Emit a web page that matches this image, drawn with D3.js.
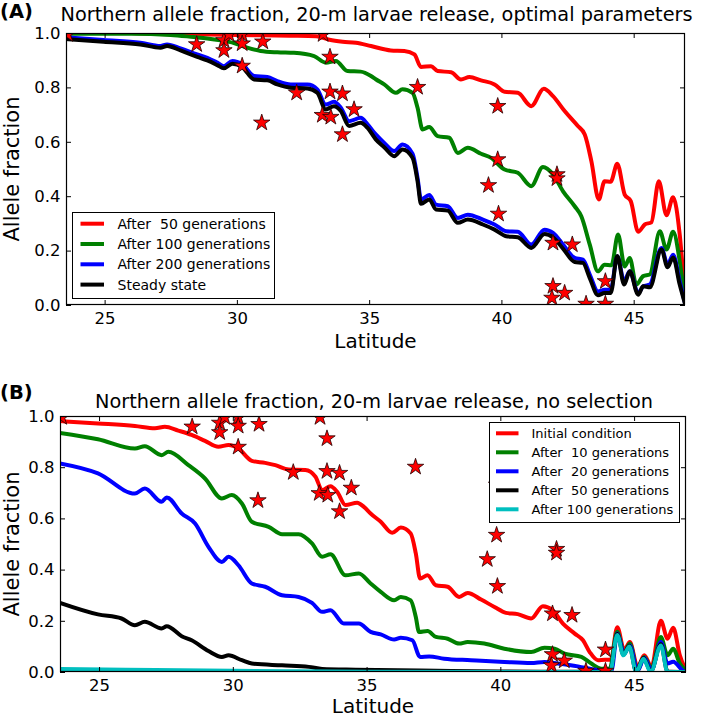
<!DOCTYPE html>
<html>
<head>
<meta charset="utf-8">
<script src="https://cdn.jsdelivr.net/npm/d3@7"></script>
<style>
body { margin: 0; background: #fff; }
text { font-family: "DejaVu Sans", sans-serif; fill: #000; }
</style>
</head>
<body>
<script>
var width = 709, height = 717;

// axis settings
var latDomain = [23.54, 46.94];
var xTicks = [25, 30, 35, 40, 45];
var yTicks = [0, 0.2, 0.4, 0.6, 0.8, 1.0];

// observed sites (latitude, northern allele fraction), same in both panels
var sites = [[23.6,0.995],[28.48,0.958],[29.51,0.973],[29.51,0.936],[29.7,0.995],[30.2,0.995],[30.2,0.961],
  [30.98,0.968],[30.2,0.879],[30.94,0.67],[32.26,0.78],[33.26,0.995],[33.52,0.912],[33.52,0.784],[33.99,0.777],
  [34.43,0.719],[33.23,0.698],[33.55,0.691],[33.99,0.627],[36.83,0.801],[39.86,0.731],[39.86,0.535],[39.51,0.44],
  [39.89,0.335],[42.1,0.48],[42.1,0.465],[41.95,0.228],[42.68,0.222],[41.95,0.069],[42.39,0.044],[41.91,0.026],
  [43.2,0.004],[43.93,0.087],[43.93,0.004]];

// panel A: optimal parameters
var aGen50 = [[23.54,1.0],[26.0,1.0],[27.0,0.996],[28.5,0.995],[30.0,0.993],[32.0,0.99],[33.0,0.988],[33.5,0.975],
  [34.0,0.968],[34.5,0.964],[35.07,0.952],[35.82,0.936],[36.33,0.934],[36.71,0.921],[36.96,0.875],[37.34,0.878],
  [37.59,0.86],[38.1,0.856],[38.47,0.829],[38.79,0.838],[39.23,0.826],[39.74,0.811],[40.12,0.784],[40.62,0.78],
  [41.13,0.731],[41.6,0.795],[41.95,0.768],[42.39,0.713],[42.89,0.658],[43.15,0.627],[43.4,0.529],[43.68,0.388],
  [43.9,0.455],[44.13,0.453],[44.38,0.519],[44.66,0.406],[44.89,0.382],[45.17,0.269],[45.42,0.296],[45.67,0.304],
  [45.95,0.455],[46.24,0.33],[46.49,0.396],[46.74,0.259],[46.94,0.02]];
var aGen100 = [[23.54,0.997],[26.0,0.997],[27.5,0.993],[28.37,0.985],[28.88,0.98],[29.38,0.973],[29.89,0.963],
  [30.39,0.946],[30.9,0.934],[31.53,0.929],[32.16,0.927],[32.92,0.915],[33.36,0.891],[33.74,0.897],[34.18,0.86],
  [34.68,0.858],[35.07,0.842],[35.25,0.83],[35.57,0.811],[36.01,0.78],[36.26,0.793],[36.64,0.78],[36.83,0.725],
  [37.02,0.645],[37.27,0.654],[37.59,0.621],[38.03,0.615],[38.35,0.559],[38.73,0.578],[39.23,0.556],[39.61,0.541],
  [40.12,0.498],[40.62,0.486],[41.13,0.437],[41.57,0.507],[41.95,0.48],[42.33,0.418],[42.77,0.363],[43.02,0.326],
  [43.34,0.222],[43.65,0.124],[43.9,0.148],[44.16,0.146],[44.41,0.259],[44.66,0.142],[44.85,0.173],[45.1,0.075],
  [45.36,0.106],[45.61,0.112],[45.99,0.271],[46.24,0.204],[46.49,0.269],[46.74,0.161],[46.94,0.013]];
var aGen200 = [[23.54,0.984],[24.96,0.974],[26.35,0.964],[27.11,0.952],[27.36,0.958],[27.87,0.943],[28.5,0.921],
  [28.88,0.909],[29.26,0.891],[29.51,0.878],[29.83,0.897],[30.2,0.885],[30.65,0.842],[31.15,0.838],[31.53,0.823],
  [32.04,0.811],[32.67,0.811],[33.04,0.793],[33.36,0.737],[33.67,0.747],[33.93,0.725],[34.24,0.676],[34.68,0.688],
  [34.94,0.664],[35.25,0.627],[35.57,0.596],[35.95,0.566],[36.26,0.59],[36.64,0.556],[36.83,0.467],[36.96,0.388],
  [37.27,0.404],[37.53,0.369],[37.97,0.363],[38.35,0.32],[38.73,0.332],[39.3,0.314],[39.74,0.296],[40.18,0.271],
  [40.62,0.269],[41.13,0.222],[41.63,0.277],[41.95,0.265],[42.33,0.222],[42.77,0.173],[43.08,0.167],[43.34,0.112],
  [43.65,0.05],[43.9,0.056],[44.13,0.056],[44.38,0.178],[44.64,0.087],[44.85,0.124],[45.17,0.044],[45.36,0.069],
  [45.61,0.075],[46.05,0.21],[46.28,0.148],[46.49,0.185],[46.74,0.087],[46.94,0.007]];
var aSteady = [[23.54,0.978],[24.96,0.968],[26.35,0.958],[27.11,0.946],[27.36,0.952],[27.87,0.936],[28.5,0.912],
  [28.88,0.899],[29.26,0.882],[29.51,0.87],[29.83,0.887],[30.2,0.875],[30.65,0.829],[31.15,0.826],[31.53,0.811],
  [32.04,0.799],[32.67,0.796],[33.04,0.78],[33.36,0.719],[33.67,0.731],[33.93,0.713],[34.24,0.658],[34.68,0.67],
  [34.94,0.651],[35.25,0.609],[35.57,0.58],[35.95,0.547],[36.26,0.572],[36.64,0.541],[36.83,0.455],[36.96,0.372],
  [37.27,0.388],[37.53,0.351],[37.97,0.347],[38.35,0.302],[38.73,0.314],[39.3,0.296],[39.74,0.277],[40.18,0.253],
  [40.62,0.249],[41.13,0.21],[41.63,0.261],[41.95,0.249],[42.33,0.207],[42.77,0.158],[43.08,0.155],[43.34,0.099],
  [43.65,0.036],[43.9,0.044],[44.13,0.044],[44.38,0.18],[44.64,0.075],[44.85,0.124],[45.17,0.038],[45.36,0.069],
  [45.61,0.065],[46.05,0.204],[46.28,0.139],[46.49,0.175],[46.74,0.075],[46.94,0.004]];

// panel B: no selection
var bInitial = [[23.54,0.98],[24.96,0.971],[26.34,0.961],[27.09,0.952],[27.46,0.958],[27.96,0.943],[28.46,0.926],
  [28.96,0.903],[29.46,0.88],[29.84,0.887],[30.21,0.873],[30.71,0.825],[31.21,0.817],[31.59,0.808],[32.09,0.791],
  [32.71,0.789],[33.09,0.763],[33.34,0.71],[33.65,0.726],[33.9,0.704],[34.21,0.652],[34.65,0.661],[34.9,0.645],
  [35.15,0.619],[35.53,0.587],[35.96,0.544],[36.28,0.564],[36.65,0.541],[36.84,0.463],[37.0,0.365],[37.28,0.378],
  [37.59,0.339],[38.03,0.333],[38.46,0.293],[38.78,0.309],[39.28,0.283],[39.78,0.254],[40.21,0.231],[40.65,0.226],
  [41.15,0.209],[41.59,0.257],[41.96,0.241],[42.34,0.189],[42.78,0.15],[43.09,0.124],[43.34,0.078],[43.65,0.046],
  [43.9,0.048],[44.13,0.048],[44.37,0.175],[44.63,0.085],[44.84,0.117],[45.13,0.02],[45.38,0.065],[45.65,0.02],
  [46.0,0.2],[46.25,0.13],[46.46,0.173],[46.71,0.065],[46.94,0.005]];
var bGen10 = [[23.54,0.934],[24.96,0.909],[26.34,0.873],[26.71,0.882],[27.34,0.847],[27.59,0.86],[28.34,0.808],
  [28.96,0.756],[29.59,0.678],[29.96,0.691],[30.34,0.658],[30.71,0.587],[31.34,0.567],[31.84,0.538],[32.46,0.538],
  [32.96,0.502],[33.34,0.45],[33.65,0.46],[34.21,0.378],[34.71,0.385],[35.15,0.346],[35.53,0.313],[36.03,0.28],
  [36.28,0.293],[36.65,0.28],[36.84,0.215],[36.96,0.156],[37.28,0.16],[37.59,0.137],[38.03,0.13],[38.46,0.111],
  [38.78,0.117],[39.4,0.111],[40.15,0.091],[41.15,0.078],[41.65,0.095],[42.03,0.091],[42.4,0.072],[43.03,0.059],
  [43.4,0.033],[43.78,0.013],[44.09,0.013],[44.37,0.157],[44.63,0.072],[44.84,0.111],[45.13,0.007],[45.38,0.059],
  [45.65,0.013],[46.0,0.137],[46.25,0.065],[46.46,0.091],[46.71,0.033],[46.94,0.004]];
var bGen20 = [[23.54,0.815],[24.96,0.776],[26.34,0.697],[26.71,0.717],[27.34,0.665],[27.53,0.682],[28.09,0.619],
  [28.59,0.58],[29.09,0.489],[29.59,0.43],[29.84,0.45],[30.21,0.417],[30.71,0.346],[31.21,0.333],[31.84,0.3],
  [32.46,0.293],[32.96,0.27],[33.34,0.235],[33.65,0.241],[34.15,0.189],[34.71,0.189],[35.15,0.157],[35.53,0.147],
  [36.03,0.127],[36.28,0.134],[36.71,0.124],[37.0,0.059],[37.34,0.061],[37.9,0.052],[38.9,0.046],[40.15,0.039],
  [41.15,0.035],[41.65,0.039],[42.15,0.033],[42.9,0.022],[43.65,0.007],[44.15,0.004],[44.37,0.15],[44.63,0.072],
  [44.84,0.104],[45.13,0.004],[45.38,0.056],[45.65,0.007],[46.0,0.117],[46.25,0.033],[46.46,0.04],[46.84,0.004],
  [46.94,0.0]];
var bGen50 = [[23.54,0.27],[24.96,0.225],[25.84,0.209],[26.34,0.183],[26.71,0.196],[27.34,0.17],[27.53,0.179],
  [28.09,0.14],[28.46,0.124],[29.09,0.082],[29.59,0.059],[29.84,0.065],[30.34,0.046],[30.71,0.033],[31.84,0.026],
  [32.84,0.02],[33.34,0.012],[34.59,0.009],[37.6,0.005],[40.0,0.002],[44.1,0.001],[44.37,0.148],[44.6,0.068],
  [44.82,0.103],[45.08,0.002],[45.35,0.055],[45.62,0.002],[46.0,0.108],[46.25,0.002],[46.94,0.0]];
var bGen100 = [[23.54,0.012],[26.0,0.009],[29.0,0.006],[32.0,0.003],[35.0,0.001],[44.1,0.0],[44.37,0.145],
  [44.6,0.065],[44.82,0.1],[45.08,0.0],[45.35,0.052],[45.62,0.0],[46.0,0.104],[46.25,0.0],[46.94,0.0]];

var svg = d3.select("body").append("svg").attr("width", width).attr("height", height);

drawPanel({
  tag: "A", left: 66, right: 685, top: 33, bottom: 305,
  title: "Northern allele fraction, 20-m larvae release, optimal parameters",
  titleY: 20.7, tagY: 18.3, xLabelY: 347.5,
  series: [
    {data: aGen50, color: "#ff0000", label: "After  50 generations"},
    {data: aGen100, color: "#008000", label: "After 100 generations"},
    {data: aGen200, color: "#0000ff", label: "After 200 generations"},
    {data: aSteady, color: "#000000", label: "Steady state"}
  ],
  legend: {x: 72.5, y: 212.5, w: 202, h: 86, row0: 223.7, step: 20.3, s0: 80.5, s1: 104, tx: 117.5, font: 14}
});

drawPanel({
  tag: "B", left: 60, right: 686, top: 416, bottom: 672,
  title: "Northern allele fraction, 20-m larvae release, no selection",
  titleY: 408.3, tagY: 399.3, xLabelY: 713,
  series: [
    {data: bInitial, color: "#ff0000", label: "Initial condition"},
    {data: bGen10, color: "#008000", label: "After  10 generations"},
    {data: bGen20, color: "#0000ff", label: "After  20 generations"},
    {data: bGen50, color: "#000000", label: "After  50 generations"},
    {data: bGen100, color: "#00bfbf", label: "After 100 generations"}
  ],
  legend: {x: 489.5, y: 422.5, w: 190, h: 100, row0: 433.3, step: 19, s0: 496, s1: 518.5, tx: 531.5, font: 13}
});

function drawPanel(p){
  var x = d3.scaleLinear().domain(latDomain).range([p.left, p.right]);
  var y = d3.scaleLinear().domain([0, 1]).range([p.bottom, p.top]);
  var g = svg.append("g");

  // clip lines and stars to the axes box, like matplotlib does
  var clipId = "clip" + p.tag;
  g.append("clipPath").attr("id", clipId).append("rect")
    .attr("x", p.left).attr("y", p.top).attr("width", p.right - p.left).attr("height", p.bottom - p.top);
  var plot = g.append("g").attr("clip-path", "url(#" + clipId + ")");

  var line = d3.line().curve(d3.curveMonotoneX)
    .x(function(d){ return x(d[0]); }).y(function(d){ return y(d[1]); });
  p.series.forEach(function(s){
    plot.append("path").datum(s.data).attr("d", line)
      .attr("fill", "none").attr("stroke", s.color).attr("stroke-width", 4)
      .attr("stroke-linejoin", "round").attr("stroke-linecap", "round");
  });

  plot.selectAll("path.star").data(sites).enter().append("path").attr("class", "star")
    .attr("transform", function(d){ return "translate(" + x(d[0]) + "," + y(d[1]) + ")"; })
    .attr("d", d3.symbol(d3.symbolStar).size(84))
    .attr("fill", "#ff0000").attr("stroke", "#200").attr("stroke-width", 0.8);

  // axes: ticks pointing inwards on all four sides
  var bottomAxis = g.append("g").attr("transform", "translate(0," + p.bottom + ")")
    .call(d3.axisBottom(x).tickValues(xTicks).tickSizeInner(-5).tickSizeOuter(0).tickPadding(7.5));
  var leftAxis = g.append("g").attr("transform", "translate(" + p.left + ",0)")
    .call(d3.axisLeft(y).tickValues(yTicks).tickFormat(d3.format(".1f")).tickSizeInner(-5).tickSizeOuter(0).tickPadding(5.5));
  var topAxis = g.append("g").attr("transform", "translate(0," + p.top + ")")
    .call(d3.axisTop(x).tickValues(xTicks).tickFormat("").tickSizeInner(-5).tickSizeOuter(0));
  var rightAxis = g.append("g").attr("transform", "translate(" + p.right + ",0)")
    .call(d3.axisRight(y).tickValues(yTicks).tickFormat("").tickSizeInner(-5).tickSizeOuter(0));
  [bottomAxis, leftAxis, topAxis, rightAxis].forEach(function(a){
    a.select(".domain").remove();
    a.selectAll("line").attr("stroke", "#000");
    a.selectAll("text").attr("font-size", "16.5px").attr("font-family", "DejaVu Sans").attr("fill", "#000");
  });

  g.append("rect").attr("x", p.left + 0.5).attr("y", p.top + 0.5)
    .attr("width", p.right - p.left - 1).attr("height", p.bottom - p.top - 1)
    .attr("fill", "none").attr("stroke", "#000").attr("stroke-width", 1.2);

  // legend
  var L = p.legend;
  var lg = g.append("g");
  lg.append("rect").attr("x", L.x).attr("y", L.y).attr("width", L.w).attr("height", L.h)
    .attr("fill", "#fff").attr("stroke", "#000").attr("stroke-width", 1);
  p.series.forEach(function(s, i){
    var ry = L.row0 + i * L.step;
    lg.append("line").attr("x1", L.s0).attr("x2", L.s1).attr("y1", ry).attr("y2", ry)
      .attr("stroke", s.color).attr("stroke-width", 4);
    lg.append("text").attr("x", L.tx).attr("y", ry).attr("dy", "0.36em")
      .attr("font-size", L.font + "px").style("white-space", "pre").text(s.label);
  });

  // titles and labels
  var cx = (p.left + p.right) / 2;
  g.append("text").attr("x", cx + 1).attr("y", p.titleY).attr("text-anchor", "middle")
    .attr("font-size", "19.3px").text(p.title);
  g.append("text").attr("x", 0).attr("y", p.tagY).attr("font-size", "19.5px")
    .attr("font-weight", "bold").text("(" + p.tag + ")");
  g.append("text").attr("x", cx).attr("y", p.xLabelY).attr("text-anchor", "middle")
    .attr("font-size", "20px").text("Latitude");
  g.append("text").attr("transform", "translate(18.5," + ((p.top + p.bottom) / 2) + ") rotate(-90)")
    .attr("text-anchor", "middle").attr("font-size", "21px").text("Allele fraction");
}
</script>
</body>
</html>
